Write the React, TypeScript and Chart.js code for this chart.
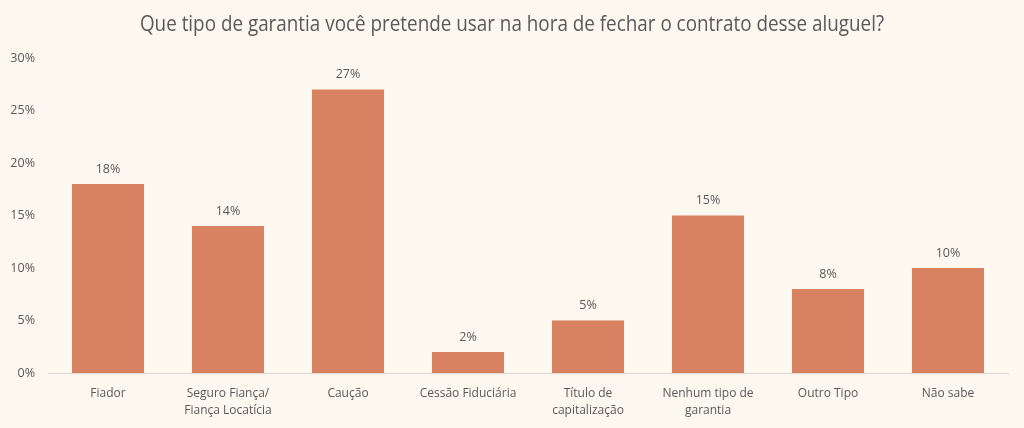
import React, { useEffect, useRef } from "react";
import { Chart, registerables } from "chart.js";

Chart.register(...registerables);

const categories: (string | string[])[] = [
  "Fiador",
  ["Seguro Fiança/", "Fiança Locatícia"],
  "Caução",
  "Cessão Fiduciária",
  ["Título de", "capitalização"],
  ["Nenhum tipo de", "garantia"],
  "Outro Tipo",
  "Não sabe",
];
const values: number[] = [18, 14, 27, 2, 5, 15, 8, 10];
const yTicks: number[] = [0, 5, 10, 15, 20, 25, 30];

const TITLE = "Que tipo de garantia você pretende usar na hora de fechar o contrato desse aluguel?";
const BG = "#fcf8ef";
const BAR = "#d98262";
const TEXT = "#595959";
const FONT = "'Open Sans', 'Liberation Sans', sans-serif";

const bgPlugin = {
  id: "bg",
  beforeDraw(chart: any) {
    const { ctx, width, height } = chart;
    ctx.save();
    ctx.fillStyle = BG;
    ctx.fillRect(0, 0, width, height);
    ctx.restore();
  },
};

const titlePlugin = {
  id: "condensedTitle",
  afterDraw(chart: any) {
    const { ctx, width } = chart;
    ctx.save();
    ctx.fillStyle = TEXT;
    ctx.font = `22px ${FONT}`;
    ctx.textAlign = "center";
    ctx.textBaseline = "middle";
    const sx = 0.857;
    ctx.translate(width / 2, 25);
    ctx.scale(sx, 1);
    ctx.fillText(TITLE, 0, 0);
    ctx.restore();
  },
};

const labelPlugin = {
  id: "valueLabels",
  afterDatasetsDraw(chart: any) {
    const { ctx } = chart;
    const meta = chart.getDatasetMeta(0);
    ctx.save();
    ctx.fillStyle = TEXT;
    ctx.font = `12.5px ${FONT}`;
    ctx.textAlign = "center";
    ctx.textBaseline = "middle";
    meta.data.forEach((bar: any, i: number) => {
      ctx.fillText(`${values[i]}%`, bar.x, bar.y - 15);
    });
    ctx.restore();
  },
};

export default function App() {
  const ref = useRef<HTMLCanvasElement>(null);
  useEffect(() => {
    document.body.style.margin = "0";
    document.body.style.background = BG;
    const chart = new Chart(ref.current!, {
      type: "bar",
      data: {
        labels: categories,
        datasets: [
          {
            data: values,
            backgroundColor: BAR,
            categoryPercentage: 1,
            barPercentage: 0.6,
          },
        ],
      },
      options: {
        animation: false,
        responsive: false,
        devicePixelRatio: 1,
        layout: { padding: { left: 0, right: 16, top: 58, bottom: 0 } },
        plugins: {
          legend: { display: false },
          tooltip: { enabled: false },
          title: { display: false },
        },
        scales: {
          x: {
            grid: { display: false },
            border: { display: true, color: "#d9d9d9", width: 1 },
            ticks: {
              color: TEXT,
              font: { family: FONT, size: 12, lineHeight: 1.4 },
              padding: 4,
              maxRotation: 0,
              autoSkip: false,
            },
            afterFit(scale: any) {
              scale.height = 55;
            },
          },
          y: {
            min: 0,
            max: 30,
            afterBuildTicks(scale: any) {
              scale.ticks = yTicks.map((v) => ({ value: v }));
            },
            grid: { display: false },
            border: { display: false },
            ticks: {
              color: TEXT,
              font: { family: FONT, size: 12.5 },
              padding: 5,
              callback: (v: any) => `${v}%`,
            },
            afterFit(scale: any) {
              scale.width = 48;
            },
          },
        },
      },
      plugins: [bgPlugin, labelPlugin, titlePlugin],
    });
    return () => chart.destroy();
  }, []);
  return <canvas ref={ref} width={1024} height={428} style={{ display: "block" }} />;
}
